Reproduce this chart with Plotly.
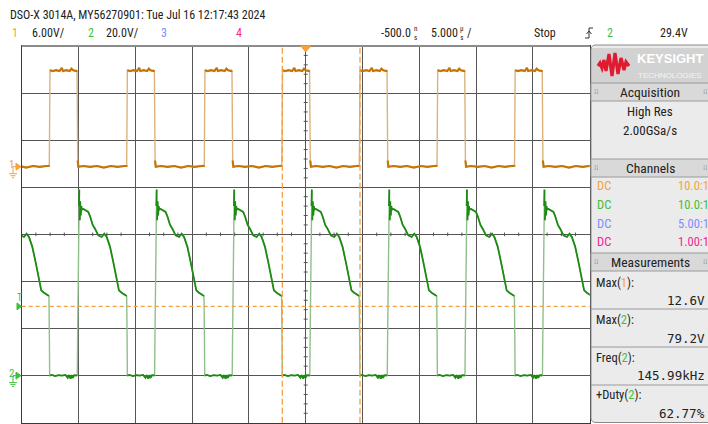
import plotly.graph_objects as go

# ---------------- data ----------------
# channel 1 rising-edge times (µs, relative to screen centre)
ch1_rise_us = [-29.41, -22.57, -15.76, -8.93, -2.10, 4.72, 11.56, 18.38, 25.21]
# one cycle of channel 1 relative to its rising edge (µs, V)
ch1_cycle_t = [0.00, 0.03, 0.06, 0.30, 0.60, 0.90, 1.10, 1.20, 1.50, 1.80, 1.95, 2.10, 2.38,
               2.44, 2.46, 2.50, 2.56, 3.00, 3.60, 4.20, 4.80, 5.40, 6.00, 6.60, 6.80]
ch1_cycle_v = [0.2, 6.0, 12.3, 12.2, 12.3, 12.2, 12.6, 12.2, 12.3, 12.2, 12.5, 12.3, 12.2,
               12.3, 5.0, 0.8, 0.0, 0.1, 0.0, 0.1, -0.1, 0.1, 0.0, 0.1, 0.1]
# channel 2 rises this long after channel 1 rises (µs)
ch2_delay_us = 2.46
# one cycle of channel 2 relative to its rising edge (µs, V)
ch2_cycle_t = [0.00, 0.04, 0.10, 0.15, 0.18, 0.22, 0.26, 0.31, 0.36, 0.40, 0.53, 0.70, 0.88,
               0.97, 1.14, 1.36, 1.56, 1.85, 2.15, 2.38, 2.59, 2.88, 3.17, 3.47, 3.67, 3.91,
               4.20, 4.35, 4.39, 4.41, 4.60, 4.90, 5.20, 5.50, 5.80, 6.00, 6.10, 6.25, 6.35,
               6.45, 6.55, 6.70]
ch2_cycle_v = [0.0, 20.0, 60.0, 72.0, 79.0, 66.0, 74.0, 68.0, 72.0, 70.5, 70.8, 70.3, 69.5,
               69.5, 67.5, 64.0, 62.4, 59.6, 58.9, 60.3, 58.9, 54.8, 48.3, 40.4, 36.2, 35.2,
               34.3, 33.8, 15.0, 0.0, 0.3, -0.2, 0.2, 0.0, 0.3, -0.9, 0.2, -1.3, 0.2, -1.0,
               0.1, 0.2]
cursor_us = [-2.06, 4.78]
trig_level_v = 29.4

ch1_scale, ch2_scale = 6.0, 20.0          # V/div
ch1_ground_div, ch2_ground_div = 1.435, -3.0
time_per_div = 5.0

header_text = "DSO-X 3014A, MY56270901: Tue Jul 16 12:17:43 2024"
channel_rows = [("DC", "10.0:1", "#f3a43b"), ("DC", "10.0:1", "#3fbf3f"),
                ("DC", "5.00:1", "#7f8cff"), ("DC", "1.00:1", "#f2288f")]
meas_labels = [("Max(", "1", "):", "#f3a43b", "12.6V"), ("Max(", "2", "):", "#3fbf3f", "79.2V"),
               ("Freq(", "2", "):", "#3fbf3f", "145.99kHz"), ("+Duty(", "2", "):", "#3fbf3f", "62.77%")]

# ---------------- geometry ----------------
W, H = 708, 424
PX_L, PX_R, PX_T, PX_B = 21.7, 589.7, 46.0, 422.7
px_per_div_x = (PX_R - PX_L) / 10
px_per_div_y = (PX_B - PX_T) / 8


def fx(x):
    return x / W


def fy(y):
    return 1 - y / H


def build(starts, offset, ct, cv):
    xs, ys = [], []
    for s in starts:
        for t, v in zip(ct, cv):
            xs.append(s + offset + t)
            ys.append(v)
    return xs, ys


def dark_segments(xs, ys, vscale):
    ox, oy = [xs[0]], [ys[0]]
    for i in range(1, len(xs)):
        dxp = abs(xs[i] - xs[i - 1]) / time_per_div * px_per_div_x
        dyp = abs(ys[i] - ys[i - 1]) / vscale * px_per_div_y
        if dyp > 25 and dyp > 10 * dxp:
            ox.append(None)
            oy.append(None)
        ox.append(xs[i])
        oy.append(ys[i])
    return ox, oy


x1, y1 = build(ch1_rise_us, 0.0, ch1_cycle_t, ch1_cycle_v)
x2, y2 = build(ch1_rise_us, ch2_delay_us, ch2_cycle_t, ch2_cycle_v)
x1d, y1d = dark_segments(x1, y1, ch1_scale)
x2d, y2d = dark_segments(x2, y2, ch2_scale)

fig = go.Figure()
fig.add_trace(go.Scatter(x=x2, y=y2, mode="lines", line=dict(color="#8fc08a", width=1.4),
                         hoverinfo="skip", yaxis="y"))
fig.add_trace(go.Scatter(x=x2d, y=y2d, mode="lines", line=dict(color="#1d8a14", width=1.8),
                         hoverinfo="skip", yaxis="y"))
fig.add_trace(go.Scatter(x=x1, y=y1, mode="lines", line=dict(color="#dcb27a", width=1.4),
                         hoverinfo="skip", yaxis="y2"))
fig.add_trace(go.Scatter(x=x1d, y=y1d, mode="lines", line=dict(color="#c57405", width=2.2),
                         hoverinfo="skip", yaxis="y2"))

grid = "#555555"
ch2_range = [(-4 - ch2_ground_div) * ch2_scale, (4 - ch2_ground_div) * ch2_scale]
ch1_range = [(-4 - ch1_ground_div) * ch1_scale, (4 - ch1_ground_div) * ch1_scale]

shapes = []
shapes.append(dict(type="line", xref="x", yref="y", x0=-25, x1=25, y0=trig_level_v, y1=trig_level_v,
                   line=dict(color="#f5a040", width=1.3, dash="4px,3px"), layer="above"))
for c in cursor_us:
    shapes.append(dict(type="line", xref="x", yref="paper", x0=c, x1=c, y0=fy(PX_B), y1=fy(PX_T),
                       line=dict(color="#f5a040", width=1.3, dash="6px,3px"), layer="above"))
cx = (PX_L + PX_R) / 2
cy = (PX_T + PX_B) / 2
for k in range(1, 40):
    xx = PX_L + k * px_per_div_x / 4
    if k % 4:
        shapes.append(dict(type="line", xref="paper", yref="paper", x0=fx(xx), x1=fx(xx),
                           y0=fy(cy - 1.8), y1=fy(cy + 1.8), line=dict(color=grid, width=1)))
for k in range(1, 40):
    yy = PX_T + k * px_per_div_y / 5
    if k % 5:
        shapes.append(dict(type="line", xref="paper", yref="paper", x0=fx(cx - 2), x1=fx(cx + 2),
                           y0=fy(yy), y1=fy(yy), line=dict(color=grid, width=1)))
shapes.append(dict(type="line", xref="paper", yref="paper", x0=fx(PX_L), x1=fx(PX_R),
                   y0=fy(PX_T), y1=fy(PX_T), line=dict(color="#8c8c8c", width=2)))
shapes.append(dict(type="path", xref="paper", yref="paper",
                   path=f"M{fx(cx-5)},{fy(46)} L{fx(cx+5)},{fy(46)} L{fx(cx)},{fy(52)} Z",
                   fillcolor="#f5a040", line=dict(color="#f5a040", width=1)))

# ---- side panel ----
PL = 591
r = 5
panel_path = (f"M{fx(712)},{fy(45)} L{fx(PL + r)},{fy(45)} Q{fx(PL)},{fy(45)} {fx(PL)},{fy(45 + r)} "
              f"L{fx(PL)},{fy(422.5 - r)} Q{fx(PL)},{fy(422.5)} {fx(PL + r)},{fy(422.5)} L{fx(712)},{fy(422.5)} Z")
shapes.append(dict(type="path", xref="paper", yref="paper", path=panel_path,
                   fillcolor="#ebebeb", line=dict(color="#8a8a8a", width=1)))
shapes.append(dict(type="rect", xref="paper", yref="paper", x0=fx(PL + 1), x1=fx(712), y0=fy(83), y1=fy(48),
                   fillcolor="#d2d2d2", line=dict(width=0)))
for (ya, yb) in [(83, 101), (159, 177), (253, 271)]:
    shapes.append(dict(type="rect", xref="paper", yref="paper", x0=fx(PL), x1=fx(712), y0=fy(yb), y1=fy(ya),
                       fillcolor="#d9d9d9", line=dict(color="#9a9a9a", width=1)))
for yl in [309, 347, 385]:
    shapes.append(dict(type="line", xref="paper", yref="paper", x0=fx(PL), x1=fx(712), y0=fy(yl), y1=fy(yl),
                       line=dict(color="#9a9a9a", width=1)))
logo_pts = [(598, 66), (600, 63), (602, 68), (604, 60), (606, 71), (609, 54), (612, 76), (615, 53),
            (618, 74), (621, 58), (624, 70), (626, 62), (629, 66)]
path = "M" + " L".join(f"{fx(a)},{fy(b)}" for a, b in logo_pts)
shapes.append(dict(type="path", xref="paper", yref="paper", path=path,
                   line=dict(color="#e11b2f", width=3.2)))

for gy, col in [(166.7, "#f3a43b"), (cy - ch2_ground_div * px_per_div_y, "#3fbf3f")]:
    shapes.append(dict(type="path", xref="paper", yref="paper",
                       path=f"M{fx(16)},{fy(gy-3.5)} L{fx(21)},{fy(gy)} L{fx(16)},{fy(gy+3.5)} Z",
                       fillcolor=col, line=dict(color=col, width=1)))
    shapes.append(dict(type="line", xref="paper", yref="paper", x0=fx(13), x1=fx(13), y0=fy(gy), y1=fy(gy + 7),
                       line=dict(color=col, width=1)))
    shapes.append(dict(type="line", xref="paper", yref="paper", x0=fx(13), x1=fx(16), y0=fy(gy), y1=fy(gy),
                       line=dict(color=col, width=1)))
    for i, hw in enumerate([4, 2.5, 1]):
        shapes.append(dict(type="line", xref="paper", yref="paper", x0=fx(13 - hw), x1=fx(13 + hw),
                           y0=fy(gy + 7 + 2 * i), y1=fy(gy + 7 + 2 * i), line=dict(color=col, width=1)))
ty = cy - (trig_level_v / ch2_scale + ch2_ground_div) * px_per_div_y
shapes.append(dict(type="path", xref="paper", yref="paper",
                   path=f"M{fx(17)},{fy(ty-3.5)} L{fx(21.5)},{fy(ty)} L{fx(17)},{fy(ty+3.5)} Z",
                   fillcolor="#3fbf3f", line=dict(color="#3fbf3f", width=1)))
shapes.append(dict(type="path", xref="paper", yref="paper",
                   path=f"M{fx(585)},{fy(38)} L{fx(589)},{fy(38)} L{fx(589)},{fy(28)} L{fx(593)},{fy(28)}",
                   line=dict(color="#333", width=1)))
shapes.append(dict(type="path", xref="paper", yref="paper",
                   path=f"M{fx(586.5)},{fy(34)} L{fx(589)},{fy(31)} L{fx(591.5)},{fy(34)}",
                   line=dict(color="#333", width=1)))

NARROW = "Liberation Sans Narrow, Roboto Condensed, Arial Narrow, Liberation Sans"
MONO = "DejaVu Sans Mono"
ann = []


def T(x, y, s, size=11.5, color="#222", anchor="left", family=NARROW):
    ann.append(dict(x=fx(x), y=fy(y), xref="paper", yref="paper", text=s, showarrow=False,
                    xanchor=anchor, yanchor="middle", font=dict(size=size, color=color, family=family)))


T(8, 15, header_text, 12)
T(10, 33, "1", 12, "#f3a43b")
T(30, 33, "6.00V/", 12)
T(86, 33, "2", 12, "#3fbf3f")
T(104, 33, "20.0V/", 12)
T(159, 33, "3", 12, "#7f8cff")
T(234, 33, "4", 12, "#f2288f")
T(379, 33, "-500.0", 12)
T(412, 33, "n<br>s", 7)
T(429, 33, "5.000", 12)
T(458, 33, "µ<br>s", 7)
T(465, 33, "/", 12)
T(532, 33, "Stop", 12)
T(605, 33, "2", 12, "#3fbf3f")
T(658, 33, "29.4V", 12)

T(7, 164, "1", 11, "#f3a43b")
T(7, 373, "2", 11, "#3fbf3f")
T(15, 297, "T", 10, "#3fbf3f")

T(670, 59, "<b>KEYSIGHT</b>", 13, "#ffffff", "center", "Liberation Sans, Arial")
T(670, 76, "TECHNOLOGIES", 8, "#f4f4f4", "center", "Liberation Sans, Arial")
for yy, s in [(92, "Acquisition"), (168, "Channels"), (262, "Measurements")]:
    T(650, yy, s, 13.5, "#222", "center")
    T(596, yy, "⁞⁞", 7, "#888", "center", "DejaVu Sans")
    T(705, yy, "⁞⁞", 7, "#888", "center", "DejaVu Sans")
T(650, 112, "High Res", 13, "#222", "center")
T(650, 130, "2.00GSa/s", 13, "#222", "center")
for i, (a, b, col) in enumerate(channel_rows):
    yy = 186 + i * 18.5
    T(595, yy, a, 12.5, col)
    T(711, yy, b, 12.5, col, "right")
for i, (p, n, q, col, val) in enumerate(meas_labels):
    yy = 282 + i * 37.5
    T(594, yy, f"{p}<span style='color:{col}'>{n}</span>{q}", 12.5, "#222")
    T(707, yy + 18.5, val, 12.5, "#222", "right", MONO)

fig.update_layout(
    width=W, height=H, margin=dict(l=0, r=0, t=0, b=0),
    paper_bgcolor="white", plot_bgcolor="white", showlegend=False,
    xaxis=dict(domain=[fx(PX_L), fx(PX_R)], range=[-5 * time_per_div, 5 * time_per_div],
               tick0=0, dtick=time_per_div, showgrid=True, gridcolor=grid, gridwidth=1,
               showticklabels=False, ticks="", zeroline=False, showline=True, mirror=True,
               linecolor="#3a3a3a", linewidth=1),
    yaxis=dict(domain=[fy(PX_B), fy(PX_T)], range=ch2_range, tick0=0, dtick=ch2_scale,
               showgrid=True, gridcolor=grid, gridwidth=1, showticklabels=False, ticks="",
               zeroline=False, showline=True, mirror=True, linecolor="#3a3a3a", linewidth=1),
    yaxis2=dict(overlaying="y", range=ch1_range, showgrid=False, showticklabels=False,
                zeroline=False, ticks=""),
    shapes=shapes, annotations=ann,
)
fig.write_html("out.html", config={"displayModeBar": False},
               post_script="document.body.style.margin='0';document.body.style.overflow='hidden';")
